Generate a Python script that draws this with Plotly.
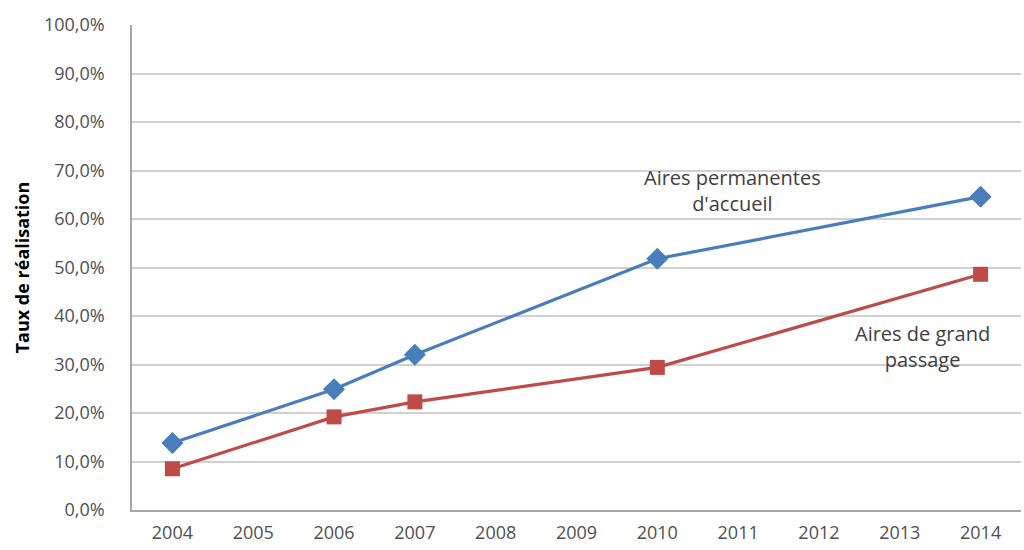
import plotly.graph_objects as go

years = ["2004", "2005", "2006", "2007", "2008", "2009", "2010", "2011", "2012", "2013", "2014"]
data_years = ["2004", "2006", "2007", "2010", "2014"]
permanentes = [13.8, 24.9, 32.0, 51.8, 64.6]
grand_passage = [8.5, 19.2, 22.3, 29.4, 48.6]
y_ticks = [0, 10, 20, 30, 40, 50, 60, 70, 80, 90, 100]
y_tick_labels = [f"{v:.1f}".replace(".", ",") + "%" for v in y_ticks]

FONT = "Open Sans, sans-serif"

fig = go.Figure()
fig.add_trace(go.Scatter(
    x=data_years, y=permanentes, mode="lines+markers", name="Aires permanentes d'accueil",
    line=dict(color="#4a7ebb", width=3.2),
    marker=dict(symbol="diamond", size=17, color="#4a7ebb"),
))
fig.add_trace(go.Scatter(
    x=data_years, y=grand_passage, mode="lines+markers", name="Aires de grand passage",
    line=dict(color="#be4b48", width=3.2),
    marker=dict(symbol="square", size=15, color="#be4b48"),
))

fig.add_annotation(x=6.93, y=65.8, xref="x", yref="y", text="Aires permanentes<br>d'accueil",
                   showarrow=False, font=dict(size=20, color="#404040", family=FONT))
fig.add_annotation(x=9.28, y=33.8, xref="x", yref="y", text="Aires de grand<br>passage",
                   showarrow=False, font=dict(size=20, color="#404040", family=FONT))

fig.update_layout(
    width=1024, height=550,
    margin=dict(l=132, r=3, t=25, b=40),
    paper_bgcolor="white", plot_bgcolor="white",
    showlegend=False,
    font=dict(family=FONT, color="#595959", size=15),
)
fig.update_xaxes(
    type="category", categoryorder="array", categoryarray=years,
    range=[-0.5, 10.5], showgrid=False, showline=True, linecolor="#a6a6a6", linewidth=1.5,
    ticks="", tickfont=dict(size=18, color="#505050"), ticklabelstandoff=6,
)
fig.update_yaxes(
    range=[0, 100], tickvals=y_ticks, ticktext=y_tick_labels,
    showgrid=True, gridcolor="#d0d0d0", gridwidth=1.5,
    showline=True, linecolor="#a6a6a6", linewidth=1.5, zeroline=False,
    ticks="", tickfont=dict(size=18, color="#505050"), ticklabelstandoff=22,
    title=dict(text="<b>Taux de réalisation</b>", font=dict(size=18, color="#000000", family=FONT), standoff=10),
)

fig.write_html("out.html")
